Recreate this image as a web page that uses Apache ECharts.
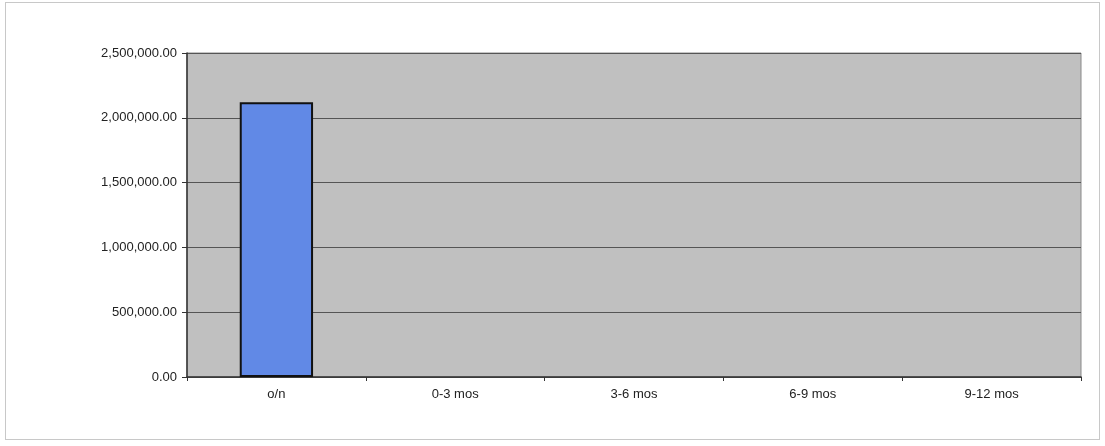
<!DOCTYPE html>
<html><head><meta charset="utf-8">
<script src="https://cdn.jsdelivr.net/npm/echarts@6/dist/echarts.min.js"></script>
<style>
html,body{margin:0;padding:0;background:#fff;}
#frame{position:absolute;left:5px;top:2px;width:1095px;height:438px;border:1px solid #c8c8c8;box-sizing:border-box;}
#c{position:absolute;left:0;top:0;width:1105px;height:446px;}
</style></head>
<body><div id="frame"></div><div id="c"></div>
<script>
const categories = ["o/n", "0-3 mos", "3-6 mos", "6-9 mos", "9-12 mos"];
const values = [2120000, 0, 0, 0, 0];
const yTicks = { min: 0, max: 2500000, interval: 500000 };

const chart = echarts.init(document.getElementById('c'));
chart.setOption({
  animation: false,
  grid: { left: 187, right: 24, top: 53, bottom: 69, show: true, backgroundColor: '#c0c0c0', borderColor: '#8a8a8a', borderWidth: 1 },
  xAxis: {
    type: 'category', data: categories,
    axisLine: { lineStyle: { color: '#333', width: 1.5 } },
    axisTick: { show: true, alignWithLabel: false, length: 4, lineStyle: { color: '#333' } },
    axisLabel: { color: '#222', fontFamily: 'Liberation Sans, Arial', fontSize: 13, margin: 11 }
  },
  yAxis: {
    type: 'value', min: yTicks.min, max: yTicks.max, interval: yTicks.interval,
    axisLine: { show: true, lineStyle: { color: '#333', width: 1.5 } },
    axisTick: { show: true, length: 5, lineStyle: { color: '#333' } },
    splitLine: { lineStyle: { color: '#555', width: 1 } },
    axisLabel: { color: '#222', fontFamily: 'Liberation Sans, Arial', fontSize: 13, margin: 10,
      formatter: v => v.toLocaleString('en-US', { minimumFractionDigits: 2, maximumFractionDigits: 2 }) }
  },
  series: [{
    type: 'bar', barWidth: '41%',
    data: values.map(v => v === 0 ? { value: v, itemStyle: { borderWidth: 0 } } : v),
    itemStyle: { color: '#6189e6', borderColor: '#111', borderWidth: 2 }
  }]
});
</script></body></html>
